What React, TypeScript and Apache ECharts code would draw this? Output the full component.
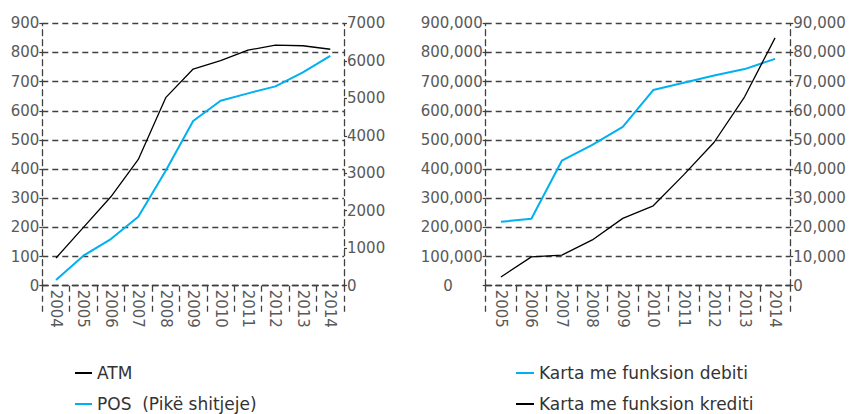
import React, { useEffect, useRef } from "react";
import * as echarts from "echarts";

const yearsLeft = ["2004", "2005", "2006", "2007", "2008", "2009", "2010", "2011", "2012", "2013", "2014"];
const atm = [95, 200, 305, 433, 645, 743, 772, 808, 825, 823, 811];
const pos = [150, 800, 1245, 1840, 3067, 4393, 4935, 5131, 5317, 5691, 6133];

const yearsRight = ["2005", "2006", "2007", "2008", "2009", "2010", "2011", "2012", "2013", "2014"];
const debit = [219000, 229800, 428700, 483000, 545000, 671000, 696000, 721000, 743000, 778000];
const credit = [3000, 9900, 10500, 15700, 23100, 27400, 38000, 49200, 64800, 85000];

const FONT = "DejaVu Sans";
const GREY = "#595959";
const DASH = "#404040";
const BLUE = "#00b0f0";

export default function App() {
  const ref = useRef<HTMLDivElement>(null);
  useEffect(() => {
    const chart = echarts.init(ref.current!, null, { renderer: "svg" });
    const dashed = { color: DASH, width: 1.3, type: [6, 4] as any };
    const label = { color: GREY, fontFamily: FONT, fontSize: 15 };
    const xAxisBase = (gridIndex: number, data: string[]) => ({
      type: "category",
      gridIndex,
      data,
      boundaryGap: true,
      axisLine: { show: true, lineStyle: dashed },
      axisTick: { show: true, interval: 0, length: 27, lineStyle: dashed },
      axisLabel: { ...label, rotate: -90, interval: 0, margin: 4 },
      splitLine: { show: false },
    });
    const yLeft = (gridIndex: number, max: number, interval: number, formatter: any, rich?: any) => ({
      type: "value",
      gridIndex,
      min: 0,
      max,
      interval,
      position: "left",
      axisLine: { show: true, lineStyle: dashed },
      axisTick: { show: true, length: 3, lineStyle: { color: DASH, width: 1.2 } },
      axisLabel: { ...label, margin: 3, formatter, rich },
      splitLine: { show: true, lineStyle: dashed },
    });
    const yRight = (gridIndex: number, max: number, interval: number, formatter: any) => ({
      type: "value",
      gridIndex,
      min: 0,
      max,
      interval,
      position: "right",
      axisLine: { show: true, lineStyle: dashed },
      axisTick: { show: true, length: 3, lineStyle: { color: DASH, width: 1.2 } },
      axisLabel: { ...label, margin: 3, formatter },
      splitLine: { show: false },
    });
    const fmt = (v: number) => v.toLocaleString("en-US");
    const legendBase = {
      orient: "vertical",
      top: 363,
      height: 80,
      padding: 0,
      itemHeight: 2,
      itemGap: 11,
      icon: "rect",
      textStyle: { color: "#333", fontFamily: FONT, fontSize: 17, lineHeight: 20 },
    };
    chart.setOption({
      animation: false,
      backgroundColor: "#ffffff",
      grid: [
        { left: 42.3, right: 850 - 344, top: 23.3, height: 262.4 },
        { left: 485.7, right: 850 - 790.3, top: 23.3, height: 262.4 },
      ],
      xAxis: [xAxisBase(0, yearsLeft), xAxisBase(1, yearsRight)],
      yAxis: [
        yLeft(0, 900, 100, (v: number) => String(v)),
        yRight(0, 7000, 1000, (v: number) => String(v)),
        yLeft(1, 900000, 100000, (v: number) => (v === 0 ? "{z|0}" : fmt(v)), {
          z: { ...label, padding: [0, 30, 0, 0] },
        }),
        yRight(1, 90000, 10000, fmt),
      ],
      legend: [
        {
          ...legendBase,
          left: 75,
          itemWidth: 17,
          data: ["ATM", "POS  (Pikë shitjeje)"],
        },
        {
          ...legendBase,
          left: 516,
          itemWidth: 18,
          data: ["Karta me funksion debiti", "Karta me funksion krediti"],
        },
      ],
      series: [
        {
          name: "ATM",
          type: "line",
          xAxisIndex: 0,
          yAxisIndex: 0,
          data: atm,
          symbol: "none",
          lineStyle: { color: "#000", width: 1.3 },
          itemStyle: { color: "#000" },
        },
        {
          name: "POS  (Pikë shitjeje)",
          type: "line",
          xAxisIndex: 0,
          yAxisIndex: 1,
          data: pos,
          symbol: "none",
          lineStyle: { color: BLUE, width: 2 },
          itemStyle: { color: BLUE },
        },
        {
          name: "Karta me funksion debiti",
          type: "line",
          xAxisIndex: 1,
          yAxisIndex: 2,
          data: debit,
          symbol: "none",
          lineStyle: { color: BLUE, width: 2 },
          itemStyle: { color: BLUE },
        },
        {
          name: "Karta me funksion krediti",
          type: "line",
          xAxisIndex: 1,
          yAxisIndex: 3,
          data: credit,
          symbol: "none",
          lineStyle: { color: "#000", width: 1.3 },
          itemStyle: { color: "#000" },
        },
      ],
    });
    return () => chart.dispose();
  }, []);
  return (
    <div
      ref={ref}
      style={{ position: "absolute", left: 0, top: 0, width: 850, height: 414 }}
    />
  );
}
